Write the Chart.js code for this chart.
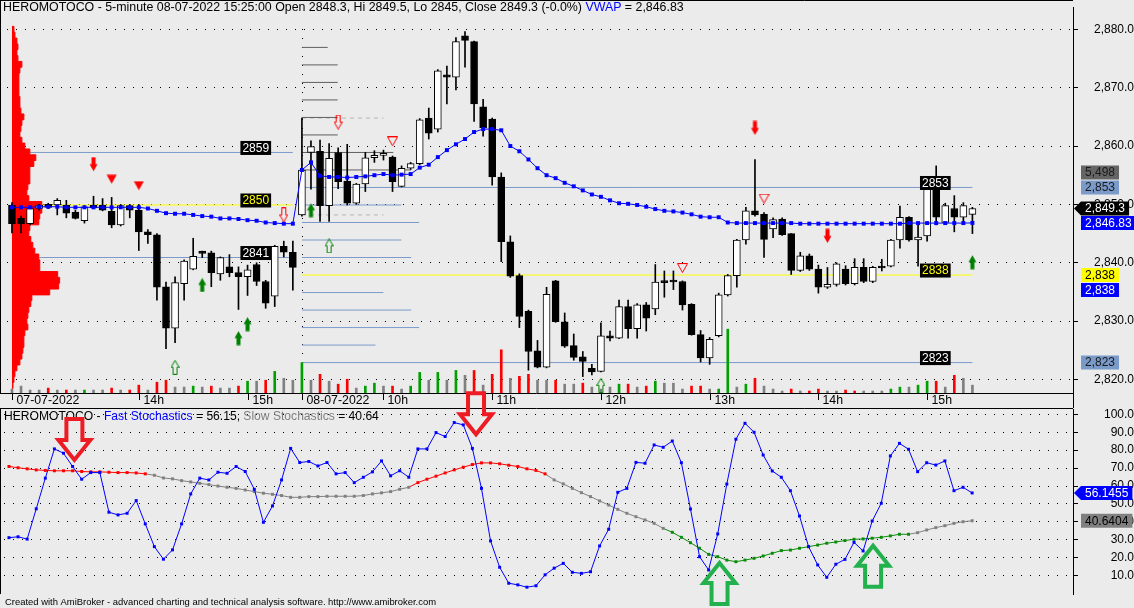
<!DOCTYPE html>
<html><head><meta charset="utf-8">
<script src="https://cdn.jsdelivr.net/npm/chart.js@4.4.1/dist/chart.umd.min.js"></script>
<style>
html,body{margin:0;padding:0;background:#ebebeb;}
#wrap{position:relative;width:1134px;height:608px;overflow:hidden;background:#ebebeb;}
#c1{position:absolute;left:0;top:0;}
#c2{position:absolute;left:0;top:390px;}
</style></head><body>
<div id="wrap"><canvas id="c1" width="1134" height="408"></canvas><canvas id="c2" width="1134" height="218"></canvas></div>
<script>
// ---------------- DATA ----------------
const symbol = 'HEROMOTOCO';
const interval = '5-minute';
const dayOneDate = '07-07-2022';
const dayTwoDate = '08-07-2022';
const dayOneTimes = ['12:50','12:55','13:00','13:05','13:10','13:15','13:20','13:25','13:30','13:35','13:40','13:45','13:50','13:55','14:00','14:05','14:10','14:15','14:20','14:25','14:30','14:35','14:40','14:45','14:50','14:55','15:00','15:05','15:10','15:15','15:20','15:25'];
const dayTwoTimes = ['09:15','09:20','09:25','09:30','09:35','09:40','09:45','09:50','09:55','10:00','10:05','10:10','10:15','10:20','10:25','10:30','10:35','10:40','10:45','10:50','10:55','11:00','11:05','11:10','11:15','11:20','11:25','11:30','11:35','11:40','11:45','11:50','11:55','12:00','12:05','12:10','12:15','12:20','12:25','12:30','12:35','12:40','12:45','12:50','12:55','13:00','13:05','13:10','13:15','13:20','13:25','13:30','13:35','13:40','13:45','13:50','13:55','14:00','14:05','14:10','14:15','14:20','14:25','14:30','14:35','14:40','14:45','14:50','14:55','15:00','15:05','15:10','15:15','15:20','15:25'];

const open = [
2849.9,2847.6,2846.7,2849.3,2850.0,2849.9,2849.9,2848.7,2847.2,2849.9,
2849.9,2848.8,2846.5,2849.8,2849.0,2845.3,2844.8,2835.9,2828.8,2836.4,
2838.9,2842.0,2841.7,2838.1,2839.3,2838.3,2837.6,2839.7,2836.8,2834.3,
2842.8,2841.8,
2848.2,2858.9,2859.1,2849.8,2858.9,2854.0,2850.2,2853.5,2858.0,2858.4,
2858.1,2853.1,2856.2,2857.0,2864.8,2862.9,2872.2,2871.8,2878.9,2877.9,
2866.7,2864.6,2854.7,2843.6,2837.8,2831.7,2824.9,2822.1,2836.9,2829.9,
2825.8,2823.9,2821.9,2821.4,2827.5,2827.1,2832.5,2828.7,2832.8,2832.1,
2836.8,2836.9,2836.8,2832.9,2827.7,2823.7,2827.5,2834.5,2837.8,2843.9,
2848.9,2848.3,2845.8,2847.5,2845.0,2838.7,2841.2,2838.9,2835.8,2836.3,
2838.9,2836.4,2839.2,2836.8,2839.4,2839.4,2843.9,2847.8,2843.9,2844.6,
2852.7,2846.9,2849.3,2847.8,2848.3];
const high = [
2850.3,2848.0,2849.5,2850.0,2850.2,2851.0,2850.7,2849.0,2849.8,2851.4,
2851.0,2851.2,2850.0,2850.0,2850.0,2845.7,2845.0,2836.7,2837.6,2840.5,
2844.2,2842.0,2842.0,2841.0,2841.4,2839.3,2839.6,2840.0,2837.0,2843.0,
2843.7,2843.7,
2864.8,2860.9,2861.0,2860.4,2859.7,2860.3,2853.6,2858.9,2859.2,2859.3,
2858.3,2856.6,2857.2,2864.7,2866.5,2873.1,2873.7,2878.6,2879.6,2878.0,
2868.0,2864.8,2855.4,2844.6,2838.1,2831.9,2826.7,2835.8,2837.0,2831.4,
2827.8,2824.8,2822.6,2829.7,2828.3,2833.6,2833.6,2833.0,2833.2,2839.7,
2838.6,2838.6,2836.9,2833.0,2828.4,2827.2,2834.8,2838.0,2844.0,2849.5,
2857.7,2848.6,2847.7,2847.7,2845.0,2841.8,2841.5,2839.6,2839.2,2840.0,
2839.5,2840.7,2840.7,2839.4,2840.6,2844.0,2849.7,2847.9,2846.9,2853.2,
2856.6,2850.2,2851.5,2850.3,2849.5];
const low = [
2845.1,2845.1,2846.5,2849.0,2849.3,2848.2,2847.7,2847.5,2846.8,2849.3,
2848.9,2846.0,2846.3,2847.7,2842.1,2843.3,2833.6,2825.3,2826.3,2833.6,
2838.8,2840.9,2835.9,2837.0,2837.6,2832.0,2834.4,2836.1,2832.2,2832.5,
2841.0,2835.3,
2848.0,2852.6,2847.1,2847.1,2852.7,2849.9,2850.0,2852.2,2857.2,2857.6,
2852.2,2853.0,2856.0,2856.8,2861.2,2862.4,2867.2,2869.6,2873.5,2864.2,
2861.7,2853.3,2840.2,2837.5,2828.9,2821.6,2822.0,2822.0,2829.8,2825.5,
2823.3,2820.5,2820.8,2821.3,2826.6,2827.0,2827.1,2827.1,2828.3,2831.1,
2834.1,2835.4,2831.9,2827.6,2823.0,2822.6,2827.3,2834.3,2835.8,2843.2,
2848.0,2840.9,2844.3,2844.7,2838.0,2838.5,2838.7,2834.8,2835.6,2836.0,
2836.2,2836.2,2836.6,2836.6,2838.6,2839.3,2842.5,2843.7,2839.4,2843.7,
2846.5,2846.6,2845.3,2847.0,2845.0];
const close = [
2846.7,2846.7,2849.3,2849.9,2849.5,2850.7,2848.5,2847.6,2849.6,2849.4,
2849.0,2846.5,2849.8,2849.0,2845.3,2844.8,2835.8,2828.8,2836.6,2840.3,
2841.1,2841.6,2838.3,2840.9,2838.3,2837.6,2838.8,2836.8,2833.1,2842.8,
2841.8,2839.2,
2855.9,2859.9,2849.8,2857.9,2853.9,2850.2,2853.5,2858.0,2858.4,2858.5,
2853.9,2856.2,2857.0,2864.5,2862.2,2872.9,2871.8,2877.9,2878.1,2867.2,
2863.1,2854.7,2843.6,2837.7,2830.8,2824.8,2822.1,2834.6,2829.9,2825.7,
2823.8,2823.1,2821.3,2827.5,2827.1,2832.5,2828.7,2832.8,2830.5,2836.7,
2836.6,2836.7,2832.8,2827.7,2823.7,2826.9,2834.5,2837.8,2843.9,2848.9,
2848.2,2844.0,2847.4,2844.8,2838.7,2841.2,2838.9,2835.8,2836.3,2839.8,
2836.4,2839.2,2836.8,2839.2,2839.1,2843.9,2847.8,2843.9,2844.4,2853.0,
2847.8,2849.8,2847.8,2849.8,2849.3];
const volume = [
2750,4810,2060,2080,3440,2050,2070,2060,2040,2060,
2080,3450,2060,2070,5500,2050,7560,8930,4120,4130,
4810,4120,4800,3440,3430,4820,8240,8250,8930,15110,
10300,8920,
21290,8930,13050,8240,6180,9620,3440,4810,6870,4820,
4800,2750,4810,14430,8930,14420,8940,15800,12370,15790,
5500,13050,30230,10300,11680,13060,8930,8920,8930,6180,
6190,6870,4120,2750,4120,6180,6190,4120,4810,8240,
6870,6880,2750,4810,4820,2740,2750,44660,4120,6180,
10300,4810,2750,1370,2750,1370,1380,2750,1370,1370,
2060,1370,1380,1370,1370,2750,4120,4130,5500,8240,
8250,4120,12370,10300,5498];
// 1 = up-volume, -1 = down-volume, 0 = neutral
const volumeSide = [
0,0,0,0,-1,0,-1,0,1,0, 0,-1,0,-1,-1,0,-1,-1,0,0, 1,0,-1,0,0,-1,1,0,-1,1, 0,0,
1,0,-1,0,-1,-1,0,1,1,0, -1,0,1,1,0,1,0,1,0,-1, 0,-1,-1,0,-1,-1,0,0,-1,0, 0,-1,0,0,0,
1,-1,0,-1,1,0,0,0,-1,-1, 0,1,1,0,1,-1,0,0,0,-1, 0,-1,-1,0,0,-1,-1,0,0,0, 1,1,0,1,1,-1,0,-1,0,0];
const vwap = [
2849.5,2849.5,2849.5,2849.6,2849.6,2849.6,2849.5,2849.5,2849.5,2849.5,
2849.5,2849.5,2849.5,2849.5,2849.5,2849.3,2848.9,2848.5,2848.4,2848.4,
2848.2,2848.0,2847.9,2847.6,2847.6,2847.5,2847.3,2847.2,2846.9,2846.8,
2846.7,2846.7,
2855.9,2857.2,2854.9,2854.7,2854.7,2854.6,2854.7,2854.8,2855.0,2855.2,
2855.0,2855.1,2855.2,2856.3,2856.8,2858.1,2859.3,2860.3,2861.2,2862.4,
2862.9,2862.9,2862.7,2860.0,2859.1,2857.7,2856.2,2855.0,2854.5,2853.7,
2853.1,2852.4,2851.7,2851.3,2850.7,2850.2,2850.1,2849.9,2849.6,2849.2,
2848.9,2848.8,2848.6,2848.3,2847.9,2847.8,2847.8,2846.9,2846.8,2846.8,
2846.8,2846.8,2846.8,2846.8,2846.8,2846.7,2846.7,2846.7,2846.7,2846.7,
2846.7,2846.7,2846.7,2846.7,2846.7,2846.7,2846.7,2846.8,2846.8,2846.8,
2846.8,2846.8,2846.8,2846.8,2846.83];

// Volume-at-price profile (left, red), thousand shares per 1-point bin
const profilePrices = [2880,2879,2878,2877,2876,2875,2874,2873,2872,2871,2870,2869,2868,2867,2866,2865,2864,2863,2862,2861,2860,2859,2858,2857,2856,2855,2854,2853,2852,2851,2850,2849,2848,2847,2846,2845,2844,2843,2842,2841,2840,2839,2838,2837,2836,2835,2834,2833,2832,2831,2830,2829,2828,2827,2826,2825,2824,2823,2822,2821,2820,2819];
const profileVolume = [4,6,10,12,10,12,20,16,14,14,14,14,16,16,18,24,20,18,16,20,26,36,48,44,36,36,36,32,30,34,60,60,56,54,36,34,38,42,46,54,56,56,92,96,94,76,40,38,34,32,30,32,26,24,24,22,20,16,10,6,4,2];

// Session levels (value-area high, POC, value-area low)
const dayOneLevels = [2858.9, 2849.9, 2840.9];
const dayTwoLevels = [2852.9, 2837.9, 2822.9];
const levelKinds = ['vah', 'poc', 'val'];
// Day-two price-bin volume lines (thousand shares)
const dayTwoBinPrices = [2876.9,2873.9,2870.9,2867.9,2864.9,2861.9,2858.9,2855.9,2849.9,2846.9,2843.9,2840.9,2834.9,2831.9,2828.9,2825.9];
const dayTwoBinVolume = [13,18,18,18,18,18,46,55,50,59,50,55,41,55,59,37];
const initialBalance = [2864.8, 2848.2];
const ibEndTime = '10:00';

// Signal markers (bar index, price)
const sellArrowBars = [9, 82, 90], sellArrowPrices = [2856.9, 2863.1, 2844.6];
const sellTriBars = [11, 14], sellTriPrices = [2854.3, 2853.2];
const openSellArrowBars = [30, 36], openSellArrowPrices = [2848.2, 2864.1];
const openSellTriBars = [42, 74, 83], openSellTriPrices = [2860.8, 2839.1, 2851.0];
const buyArrowBars = [21, 25, 26, 33, 106], buyArrowPrices = [2836.2, 2827.1, 2829.5, 2849.0, 2840.1];
const openBuyArrowBars = [18, 35, 65], openBuyArrowPrices = [2822.1, 2842.9, 2819.0];

// Stochastics
const fastK = [31.2,31.7,30.4,47.3,64.4,80.7,78.3,70.9,63.8,67.5,67.5,45.4,43.9,44.8,51.9,38.9,26.2,19.2,24.4,38.9,55.6,64.4,63.4,67.7,67.1,70.9,68.1,58.2,39.8,48.9,63.4,81.0,73.1,73.7,71.2,73.1,66.8,67.5,61.9,64.9,67.9,74.0,65.7,68.5,64.9,80.7,80.7,89.8,87.6,95.4,94.1,81.0,58.7,29.4,14.7,5.8,4.9,3.6,4.4,10.5,14.2,
16.9,11.9,11.3,12.2,26.6,35.9,56.5,58.7,73.2,72.7,82.9,81.6,85.1,73.0,47.2,20.6,13.2,33.3,61.1,86.1,95.0,90.0,77.3,68.4,64.9,57.4,43.3,26.2,16.0,9.1,16.4,19.1,28.6,23.8,40.5,50.4,76.8,83.8,80.5,68.0,73.0,71.7,74.0,57.4,59.3,56.1455];
const slowD = [70.9,70.2,69.6,69.0,68.7,68.5,68.5,68.5,68.1,67.9,67.9,67.7,67.5,67.5,67.3,66.8,66.0,64.5,64.0,63.0,62.3,61.5,60.8,60.0,59.3,58.7,57.8,56.9,56.0,55.4,54.7,53.7,53.7,54.1,54.1,54.3,54.3,54.3,54.3,54.7,55.6,56.2,56.9,58.2,59.3,61.9,63.8,65.5,67.3,69.0,70.5,72.0,72.9,72.9,72.4,71.6,70.9,69.6,68.7,66.8,63.4,
61.2,58.7,56.3,54.1,51.7,49.4,47.0,44.8,42.9,41.1,39.2,36.4,34.2,31.4,28.4,25.3,21.9,20.6,18.7,17.8,18.7,19.7,21.0,22.5,24.0,24.3,25.3,26.2,27.1,28.1,28.8,29.6,30.3,30.5,30.9,31.4,32.2,33.1,33.1,34.0,35.5,36.8,37.9,39.2,40.1,40.6404];
// -1 bearish (red), 0 neutral (gray), 1 bullish (green)
const slowSignal = [
-1,-1,-1,-1,-1,-1,-1,-1,-1,-1,-1,-1,-1,-1,-1,-1,
0,0,0,0,0,0,0,0,0,0,0,0,0,0,0,0,0,0,0,0,0,0,0,0,0,0,0,0,0,
-1,-1,-1,-1,-1,-1,-1,-1,-1,-1,-1,-1,-1,-1,-1,
0,0,0,0,0,0,0,0,0,0,0,0,0,
1,1,1,1,1,1,1,1,1,1,1,1,1,1,1,1,1,1,1,1,1,1,1,1,1,1,1,
0,0,0,0,0,0,0];
// Hand-drawn callouts on the stochastic pane (tip at bar / value)
const calloutBars = [7.2, 51.4, 78.2, 95.1];
const calloutValues = [72.9, 87.2, 18.8, 28.4];
const calloutDirs = ['down', 'down', 'up', 'up'];
const topAxisExtras = { volumeLast: 5498, vwapBand: 2838 };

// ---------------- HELPERS ----------------
const FONT = '"Liberation Sans", Arial, Helvetica, sans-serif';
Chart.defaults.font.family = FONT;
const times = dayOneTimes.concat(dayTwoTimes);
const nBars = times.length;
const dayTwoStart = dayOneTimes.length;
const last = nBars - 1;
const fmt = (v, d) => v.toLocaleString('en-US', {minimumFractionDigits: d, maximumFractionDigits: d});
const RED = '#ff0000', GREEN = '#008000', BLUE = '#0000ff', STEEL = 'rgb(122,154,202)', YELLOW = '#ffff00', DGRAY = '#5e5e5e', LGRAY = '#b4b4b4';
const BAR_MIN = -0.548, BAR_MAX = 117.1;
const LEVEL_BARS_PER_K = 0.2193;

function fitFont(ctx, text, width, base) {
  ctx.font = base + 'px ' + FONT;
  const s = base * width / ctx.measureText(text).width;
  ctx.font = s.toFixed(2) + 'px ' + FONT;
}
function markerCanvas(kind, color, hollow) {
  const c = document.createElement('canvas');
  const tri = kind.startsWith('tri');
  c.width = tri ? 11 : 9; c.height = tri ? 10 : 15;
  const g = c.getContext('2d');
  const up = kind.endsWith('Up');
  const Y = v => up ? c.height - v : v;
  g.beginPath();
  if (tri) {
    g.moveTo(0.5, Y(0.5)); g.lineTo(10.5, Y(0.5)); g.lineTo(5.5, Y(9.5));
  } else {
    g.moveTo(2.5, Y(0.5)); g.lineTo(6.5, Y(0.5)); g.lineTo(6.5, Y(7.5)); g.lineTo(8.5, Y(7.5));
    g.lineTo(4.5, Y(14.5)); g.lineTo(0.5, Y(7.5)); g.lineTo(2.5, Y(7.5));
  }
  g.closePath();
  if (hollow) { g.strokeStyle = color; g.lineWidth = 1; g.stroke(); }
  else { g.fillStyle = color; g.fill(); }
  return c;
}
function markerSet(bars, prices, style) {
  return {type: 'line', data: bars.map((b, i) => ({x: b, y: prices[i]})), showLine: false,
    pointStyle: style, pointRadius: 6, order: 1, xAxisID: 'x', yAxisID: 'y'};
}
function levelLine(price, from, to, color, dash) {
  return {type: 'line', data: [{x: from, y: price}, {x: to, y: price}], borderColor: color, borderWidth: 1,
    borderDash: dash || [], pointRadius: 0, fill: false, order: 10, xAxisID: 'x', yAxisID: 'y'};
}
function axisBox(ctx, left, y, text, bg, fg, pointer) {
  ctx.font = '12px ' + FONT;
  const tw = ctx.measureText(text).width;
  const bx = left + 8, right = Math.min(left + 12 + tw + 4, 1134);
  ctx.fillStyle = bg;
  ctx.beginPath();
  if (pointer) { ctx.moveTo(left + 1, y); ctx.lineTo(bx, y - 7); } else { ctx.moveTo(bx, y - 7); }
  ctx.lineTo(right, y - 7); ctx.lineTo(right, y + 7); ctx.lineTo(bx, y + 7);
  ctx.closePath(); ctx.fill();
  ctx.fillStyle = fg; ctx.textAlign = 'left'; ctx.textBaseline = 'middle';
  ctx.fillText(text, left + 12, y + 0.5);
}
function rightAxisCfg(min, max, pad, fmtFn) {
  return {
    type: 'linear', position: 'right', min, max,
    afterFit: s => { s.width = 61; s.paddingTop = 0; s.paddingBottom = 0; },
    ticks: {stepSize: 10, includeBounds: false, crossAlign: 'far', padding: pad, color: '#000',
      font: {size: 12, family: FONT}, callback: fmtFn},
    grid: {color: c => (c.tick && c.tick.value === 0) ? 'rgba(0,0,0,0)' : '#000', lineWidth: 1, tickLength: 5,
      tickColor: c => (c.tick && c.tick.value === 0) ? 'rgba(0,0,0,0)' : '#000', drawOnChartArea: true},
    border: {display: true, color: '#000', dash: [1, 8]}
  };
}

// ---------------- TOP PANE ----------------
const levelSets = [];
dayOneLevels.forEach((p, k) => levelSets.push(levelLine(p, 0, dayTwoStart - 1, levelKinds[k] === 'poc' ? YELLOW : STEEL)));
dayTwoLevels.forEach((p, k) => levelSets.push(levelLine(p, dayTwoStart, last, levelKinds[k] === 'poc' ? YELLOW : STEEL)));
dayTwoBinPrices.forEach((p, k) => levelSets.push(levelLine(p, dayTwoStart, dayTwoStart + dayTwoBinVolume[k] * LEVEL_BARS_PER_K, p > dayTwoLevels[0] ? DGRAY : STEEL)));
const ibEnd = dayTwoStart + dayTwoTimes.indexOf(ibEndTime);
initialBalance.forEach(p => levelSets.push(levelLine(p, dayTwoStart, ibEnd, LGRAY, [4, 4])));

const profilePts = [{x: 0, y: profilePrices[0] + 0.5}];
profilePrices.forEach((p, k) => profilePts.push({x: profileVolume[k], y: p + 0.5}));
profilePts.push({x: 0, y: profilePrices[profilePrices.length - 1] - 0.5});

const idx = [...Array(nBars).keys()];

const topDecor = {
  id: 'topDecor',
  beforeDatasetsDraw(chart) {
    const {ctx, chartArea: a, scales: {x}} = chart;
    ctx.save();
    ctx.strokeStyle = '#000'; ctx.lineWidth = 1; ctx.setLineDash([1, 8]);
    const sx = Math.round(x.getPixelForValue(dayTwoStart)) + 0.5;
    ctx.beginPath(); ctx.moveTo(sx, a.top + 22); ctx.lineTo(sx, a.bottom); ctx.stroke();
    ctx.restore();
  },
  afterDraw(chart) {
    const {ctx, chartArea: a, scales: {x, y}} = chart;
    ctx.save();
    // frame
    ctx.strokeStyle = '#000'; ctx.lineWidth = 1;
    ctx.beginPath();
    ctx.moveTo(0, 0.5); ctx.lineTo(a.right, 0.5);
    ctx.moveTo(0.5, 0); ctx.lineTo(0.5, a.bottom);
    ctx.moveTo(0, a.bottom + 0.5); ctx.lineTo(a.right, a.bottom + 0.5);
    ctx.moveTo(a.right + 0.5, a.bottom); ctx.lineTo(a.right + 0.5, chart.height);
    ctx.stroke();
    // time axis (skip labels that would collide)
    ctx.font = '12.3px ' + FONT; ctx.fillStyle = '#000'; ctx.textBaseline = 'middle'; ctx.textAlign = 'left';
    let lastRight = -Infinity;
    times.forEach((t, i) => {
      let label = null;
      if (i === 0) label = dayOneDate;
      else if (i === dayTwoStart) label = dayTwoDate;
      else if (t.endsWith(':00')) label = String(parseInt(t, 10)) + 'h';
      if (!label) return;
      const px = Math.round(x.getPixelForValue(i)) + 0.5;
      if (px < lastRight + 6) return;
      ctx.beginPath(); ctx.moveTo(px, a.bottom); ctx.lineTo(px, a.bottom + 7); ctx.stroke();
      ctx.fillText(label, px + 4, a.bottom + 8);
      lastRight = px + 4 + ctx.measureText(label).width;
    });
    // level tags
    ctx.font = '12px ' + FONT;
    const tag = (price, endBar, fg) => {
      const rx = x.getPixelForValue(endBar - 2.4);
      const cy = y.getPixelForValue(price) - 4.5;
      const text = String(Math.round(price));
      const w = ctx.measureText(text).width + 4;
      ctx.fillStyle = '#000'; ctx.fillRect(rx - w, cy - 7, w, 14);
      ctx.fillStyle = fg; ctx.textAlign = 'right'; ctx.fillText(text, rx - 2, cy + 0.5);
    };
    dayOneLevels.forEach((p, k) => tag(p, dayTwoStart - 1, levelKinds[k] === 'poc' ? YELLOW : '#fff'));
    dayTwoLevels.forEach((p, k) => tag(p, last, levelKinds[k] === 'poc' ? YELLOW : '#fff'));
    // right axis value boxes
    const L = a.right;
    const yVAH = y.getPixelForValue(dayTwoLevels[0]);
    axisBox(ctx, L, yVAH - 15, fmt(topAxisExtras.volumeLast, 0), '#656565', '#1a1a1a', false);
    axisBox(ctx, L, yVAH, fmt(Math.round(dayTwoLevels[0]), 0), STEEL, '#1a1a1a', false);
    axisBox(ctx, L, y.getPixelForValue(close[last]), fmt(close[last], 1), '#000', '#fff', true);
    axisBox(ctx, L, y.getPixelForValue(vwap[last]), fmt(vwap[last], 2), BLUE, '#fff', false);
    const yPoc = y.getPixelForValue(dayTwoLevels[1]);
    axisBox(ctx, L, yPoc, fmt(Math.round(dayTwoLevels[1]), 0), YELLOW, '#000', false);
    axisBox(ctx, L, yPoc + 15, fmt(topAxisExtras.vwapBand, 0), BLUE, '#fff', false);
    axisBox(ctx, L, y.getPixelForValue(dayTwoLevels[2]), fmt(Math.round(dayTwoLevels[2]), 0), STEEL, '#1a1a1a', false);
    // title
    const chg = ((close[last] - close[last - 1]) / close[last - 1] * 100).toFixed(1);
    const t1 = `${symbol} - ${interval} ${dayTwoDate} ${dayTwoTimes[dayTwoTimes.length - 1]}:00 Open ${open[last]}, Hi ${high[last]}, Lo ${low[last]}, Close ${close[last]} (${chg}%) `;
    fitFont(ctx, t1, 583, 12);
    ctx.textAlign = 'left'; ctx.textBaseline = 'middle';
    let tx = 3;
    [[t1, '#000'], ['VWAP', BLUE], [' = ' + fmt(vwap[last], 2), '#000']].forEach(([t, c]) => {
      ctx.fillStyle = c; ctx.fillText(t, tx, 8); tx += ctx.measureText(t).width;
    });
    ctx.restore();
  }
};

new Chart(document.getElementById('c1'), {
  type: 'line',
  data: {
    datasets: [
      ...levelSets,
      {type: 'bar', data: idx.map(i => ({x: i, y: volume[i]})), xAxisID: 'x', yAxisID: 'yVol',
        backgroundColor: idx.map(i => volumeSide[i] > 0 ? '#00a000' : volumeSide[i] < 0 ? RED : '#808080'),
        barThickness: 2, grouped: false, order: 9},
      {type: 'line', data: profilePts, xAxisID: 'xProf', yAxisID: 'y', stepped: 'after', fill: 'shape',
        backgroundColor: RED, borderColor: RED, borderWidth: 1, pointRadius: 0, order: 8},
      {type: 'bar', data: idx.map(i => ({x: i, y: [low[i], high[i]]})), xAxisID: 'x', yAxisID: 'y',
        backgroundColor: '#000', barThickness: 1, grouped: false, order: 7},
      {type: 'bar', data: idx.map(i => ({x: i, y: [open[i], close[i]]})), xAxisID: 'x', yAxisID: 'y',
        backgroundColor: idx.map(i => close[i] >= open[i] ? '#fff' : '#000'), borderColor: '#000', borderWidth: 1,
        borderSkipped: false, barThickness: 7, minBarLength: 2, grouped: false, order: 6},
      {type: 'line', data: idx.map(i => ({x: i, y: vwap[i]})), xAxisID: 'x', yAxisID: 'y',
        borderColor: BLUE, borderWidth: 1, pointStyle: 'rect', pointRadius: 2.8, pointBackgroundColor: BLUE,
        pointBorderWidth: 0, fill: false, order: 5},
      markerSet(sellArrowBars, sellArrowPrices, markerCanvas('arrowDown', RED, false)),
      markerSet(sellTriBars, sellTriPrices, markerCanvas('triDown', RED, false)),
      markerSet(openSellArrowBars, openSellArrowPrices, markerCanvas('arrowDown', RED, true)),
      markerSet(openSellTriBars, openSellTriPrices, markerCanvas('triDown', RED, true)),
      markerSet(buyArrowBars, buyArrowPrices, markerCanvas('arrowUp', GREEN, false)),
      markerSet(openBuyArrowBars, openBuyArrowPrices, markerCanvas('arrowUp', GREEN, true))
    ]
  },
  options: {
    responsive: false, animation: false, events: [],
    layout: {padding: {left: 0, right: 0, top: 0, bottom: 15}},
    plugins: {legend: {display: false}, tooltip: {enabled: false}},
    scales: {
      x: {type: 'linear', min: BAR_MIN, max: BAR_MAX, offset: false, display: false},
      xProf: {type: 'linear', axis: 'x', min: -10, max: 2136, offset: false, display: false},
      y: rightAxisCfg(2817.69, 2883.82, 7, v => fmt(v, 1)),
      yVol: {type: 'linear', axis: 'y', min: 0, max: 270000, display: false}
    }
  },
  plugins: [topDecor]
});

// ---------------- BOTTOM PANE ----------------
const zoneColor = z => z < 0 ? RED : z > 0 ? '#0a8c0a' : '#808080';
const botDecor = {
  id: 'botDecor',
  afterDraw(chart) {
    const {ctx, chartArea: a, scales: {x, y}} = chart;
    ctx.save();
    ctx.strokeStyle = '#000'; ctx.lineWidth = 1;
    ctx.beginPath();
    ctx.moveTo(0, a.top - 0.5); ctx.lineTo(a.right, a.top - 0.5);
    ctx.moveTo(0.5, a.top); ctx.lineTo(0.5, a.bottom);
    ctx.stroke();
    // title
    const parts = [[symbol + ' - ', '#000'], ['Fast Stochastics', BLUE], [' = ' + fastK[last].toFixed(2) + ', ', '#000'],
      ['Slow Stochastics', '#808080'], [' = ' + slowD[last].toFixed(2), '#000']];
    fitFont(ctx, parts.map(p => p[0]).join(''), 375, 12);
    ctx.textAlign = 'left'; ctx.textBaseline = 'middle';
    let tx = 4;
    parts.forEach(([t, c]) => { ctx.fillStyle = c; ctx.fillText(t, tx, a.top + 8); tx += ctx.measureText(t).width; });
    // value boxes
    axisBox(ctx, a.right, y.getPixelForValue(fastK[last]), fastK[last].toFixed(4), BLUE, '#fff', true);
    axisBox(ctx, a.right, y.getPixelForValue(slowD[last]), slowD[last].toFixed(4), '#808080', '#000', false);
    // callout arrows
    calloutBars.forEach((b, k) => {
      const tipX = x.getPixelForValue(b), tipY = y.getPixelForValue(calloutValues[k]);
      const s = calloutDirs[k] === 'down' ? -1 : 1;
      const Lh = 41, H = 20, W = 32, S = 16;
      const ty = tipY + s * 3;
      ctx.beginPath();
      ctx.moveTo(tipX - S / 2, ty + s * Lh); ctx.lineTo(tipX + S / 2, ty + s * Lh);
      ctx.lineTo(tipX + S / 2, ty + s * H); ctx.lineTo(tipX + W / 2, ty + s * H);
      ctx.lineTo(tipX, ty); ctx.lineTo(tipX - W / 2, ty + s * H); ctx.lineTo(tipX - S / 2, ty + s * H);
      ctx.closePath();
      ctx.lineWidth = 4; ctx.lineJoin = 'miter';
      ctx.strokeStyle = s < 0 ? 'rgb(237,28,36)' : 'rgb(34,177,76)';
      ctx.stroke();
    });
    // footer
    const foot = 'Created with AmiBroker - advanced charting and technical analysis software. http://www.amibroker.com';
    fitFont(ctx, foot, 432, 10);
    ctx.fillStyle = '#000'; ctx.textBaseline = 'middle';
    ctx.fillText(foot, 5, chart.height - 6);
    ctx.restore();
  }
};

new Chart(document.getElementById('c2'), {
  type: 'line',
  data: {
    datasets: [
      {data: idx.map(i => ({x: i, y: slowD[i]})), borderWidth: 1, borderColor: '#808080',
        segment: {borderColor: c => zoneColor(slowSignal[c.p1DataIndex])},
        pointStyle: 'rect', pointRadius: 2.1, pointBorderWidth: 0,
        pointBackgroundColor: c => zoneColor(slowSignal[c.dataIndex]), fill: false, order: 2},
      {data: idx.map(i => ({x: i, y: fastK[i]})), borderWidth: 1, borderColor: BLUE,
        pointStyle: 'rect', pointRadius: 2.1, pointBorderWidth: 0, pointBackgroundColor: BLUE, fill: false, order: 1}
    ]
  },
  options: {
    responsive: false, animation: false, events: [],
    layout: {padding: {left: 0, right: 0, top: 19, bottom: 14}},
    plugins: {legend: {display: false}, tooltip: {enabled: false}},
    scales: {
      x: {type: 'linear', min: BAR_MIN, max: BAR_MAX, offset: false, display: false},
      y: rightAxisCfg(-0.205, 102.955, 17, v => v === 0 ? '' : fmt(v, 1))
    }
  },
  plugins: [botDecor]
});
</script></body></html>
